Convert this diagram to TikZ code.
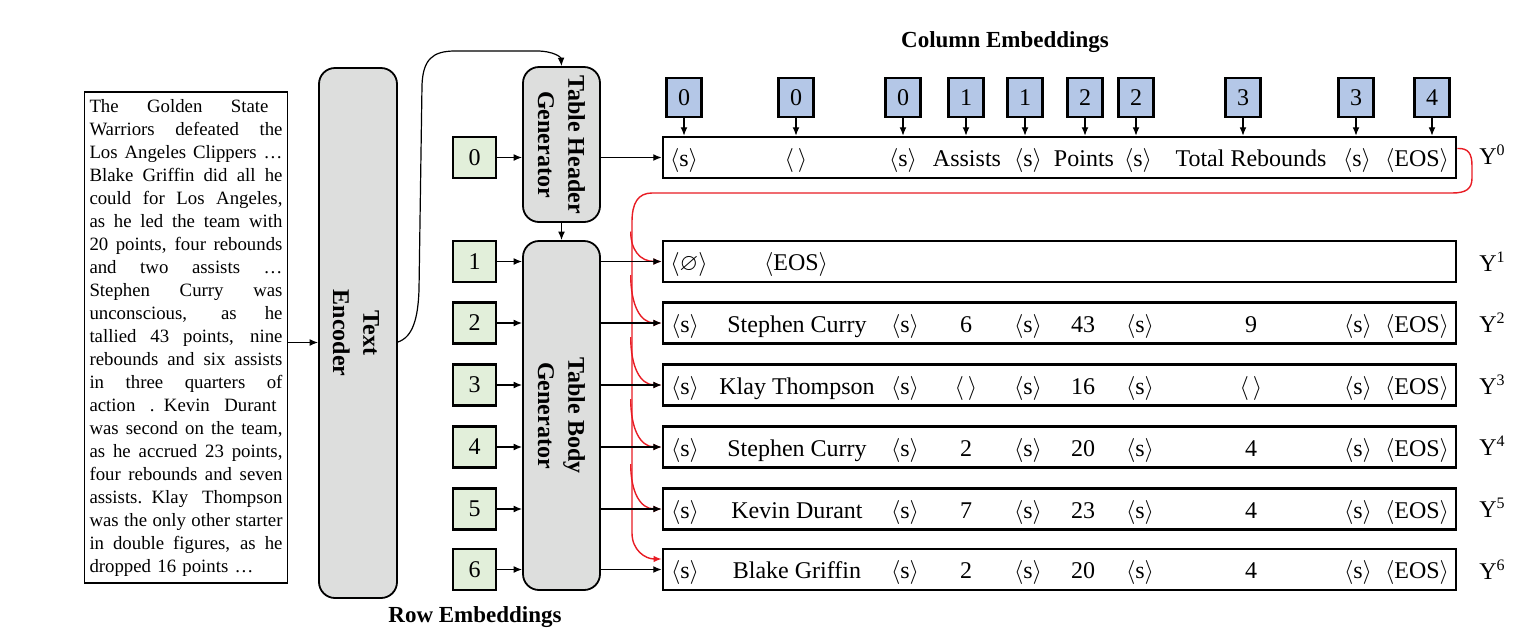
\documentclass[tikz,border=0pt]{standalone}
\usepackage{fontspec}
\usepackage{amssymb}
\setmainfont{Liberation Serif}
\usetikzlibrary{arrows.meta,calc}
\definecolor{embgreen}{RGB}{226,239,218}
\definecolor{embblue}{RGB}{180,199,231}
\definecolor{genfill}{RGB}{221,222,221}
\definecolor{redline}{RGB}{232,28,36}
\newcommand\angtok[1]{$\langle$#1$\rangle$}
\newcommand\emptytok{$\langle\,\rangle$}
\newcommand\jline[1]{\hbox to 96.5pt{\spaceskip=0.25em plus 1fil minus 0.05em\relax #1}}
\begin{document}
\begin{tikzpicture}[x=0.5pt,y=-0.5pt,
 tipstyle/.style={-{Latex[length=4.2pt,width=3.4pt]}},
 conn/.style={draw=black,line width=0.6pt,tipstyle},
 redc/.style={draw=redline,line width=0.7pt,-{Latex[length=4pt,width=3.2pt]}},
 rowbox/.style={draw=black,line width=1.3pt,minimum width=396.5pt,minimum height=20.5pt,inner sep=0pt},
 rowemb/.style={draw=black,line width=1.1pt,fill=embgreen,minimum width=21.5pt,minimum height=20.5pt,inner sep=0pt,font=\fontsize{12}{14}\selectfont},
 colemb/.style={draw=black,line width=1.1pt,fill=embblue,minimum width=17.5pt,minimum height=19.5pt,inner sep=0pt,font=\fontsize{12}{14}\selectfont},
 gen/.style={draw=black,line width=0.9pt,fill=genfill,rounded corners=8pt,inner sep=0pt},
 genlabel/.style={rotate=-90,align=center,inner sep=0pt,font=\bfseries\fontsize{12}{15.2}\selectfont},
 cell/.style={anchor=base,yshift=-4.5pt,inner sep=0pt,font=\fontsize{12}{14}\selectfont},
 ylab/.style={anchor=west,inner sep=0pt,font=\fontsize{12}{14}\selectfont},
 title/.style={inner sep=0pt,font=\bfseries\fontsize{11.5}{13}\selectfont}]
\useasboundingbox (0,0) rectangle (1522,633);

% input text
\node[draw=black,line width=0.6pt,text width=96.5pt,inner sep=2.5pt,minimum height=245.5pt,
      font=\fontsize{9.4}{11.5}\selectfont] (txt) at (186,337.5) {%
\jline{The Golden State\hspace*{7pt}}
\jline{Warriors defeated the}
\jline{Los Angeles Clippers …}
\jline{Blake Griffin did all he}
\jline{could for Los Angeles,}
\jline{as he led the team with}
\jline{20 points, four rebounds}
\jline{and two assists …}
\jline{Stephen Curry was}
\jline{unconscious, as he}
\jline{tallied 43 points, nine}
\jline{rebounds and six assists}
\jline{in three quarters of}
\jline{action . Kevin Durant\hspace*{3pt}}
\jline{was second on the team,}
\jline{as he accrued 23 points,}
\jline{four rebounds and seven}
\jline{assists. Klay Thompson}
\jline{was the only other starter}
\jline{in double figures, as he}
\hbox{dropped 16 points …}};

% encoder and generators
\node[gen,minimum width=39pt,minimum height=265pt] (enc) at (358,333) {};
\node[genlabel] (enclab) at (356,333) {Text\\Encoder};
\node[gen,minimum width=38.5pt,minimum height=77.5pt] (thg) at (561.5,144.5) {};
\node[genlabel] (thglab) at (561.5,144.5) {Table Header\\Generator};
\node[gen,minimum width=38.5pt,minimum height=174.5pt] (tbg) at (561.5,415.5) {};
\node[genlabel] (tbglab) at (561.5,415.5) {Table Body\\Generator};

% titles
\node[title] (coltitle) at (1005,42) {Column Embeddings};
\node[title] (rowtitle) at (475,617) {Row Embeddings};

% row boxes
\node[rowbox] (row0) at (1059.5,157.5) {};
\foreach \i/\yy in {1/261.5,2/323,3/385,4/447,5/509,6/569.5}
  \node[rowbox] (row\i) at (1059.5,\yy) {};

% row embeddings
\node[rowemb] (g0) at (474.5,157.5) {0};
\foreach \i/\yy in {1/261.5,2/323,3/385,4/447,5/509,6/569.5}
  \node[rowemb] (g\i) at (474.5,\yy) {\i};

% column embeddings
\foreach \k/\xx/\v in {1/684/0,2/796/0,3/903/0,4/966/1,5/1025/1,6/1085/2,7/1136/2,8/1243/3,9/1356/3,10/1432/4}{
  \node[colemb] (cb\k) at (\xx,97.5) {\v};
  \draw[conn] (cb\k.south) -- (cb\k.south |- row0.north);
}

% header row
\foreach \k/\xx/\t in {1/684/\angtok{s},2/796/\emptytok,3/903/\angtok{s},4/967/Assists,5/1028/\angtok{s},6/1084/Points,7/1138/\angtok{s},8/1251/Total Rebounds,9/1357/\angtok{s},10/1417/\angtok{EOS}}
  \node[cell] (h\k) at (\xx,157.5) {\t};

% row 1
\node[cell] (r1-1) at (689,261.5) {$\langle\varnothing\rangle$};
\node[cell] (r1-2) at (796,261.5) {\angtok{EOS}};

% rows 2-6
\foreach \i/\yy/\nm/\va/\vb/\vc in {2/323/Stephen Curry/6/43/9,3/385/Klay Thompson/\emptytok/16/\emptytok,4/447/Stephen Curry/2/20/4,5/509/Kevin Durant/7/23/4,6/569.5/Blake Griffin/2/20/4}{
  \foreach \k/\xx in {1/685,3/905,5/1028,7/1140,9/1358}
    \node[cell] (r\i-\k) at (\xx,\yy) {\angtok{s}};
  \node[cell] (r\i-2) at (797,\yy) {\nm};
  \node[cell] (r\i-4) at (966,\yy) {\va};
  \node[cell] (r\i-6) at (1083,\yy) {\vb};
  \node[cell] (r\i-8) at (1251,\yy) {\vc};
  \node[cell] (r\i-10) at (1417,\yy) {\angtok{EOS}};
}

% Y labels
\node[ylab] (y0) at (1479,155) {Y\textsuperscript{0}};
\foreach \i/\yy in {1/262,2/323,3/385,4/446,5/508,6/570}
  \node[ylab] (y\i) at (1479,\yy) {Y\textsuperscript{\i}};

% red feedback
\draw[redc] ([yshift=4.5pt]row0.east) .. controls (1468,148) and (1472,153) .. (1472,166) -- (1472,178)
  .. controls (1472,189) and (1466,193) .. (1452,193) -- (652,193)
  .. controls (638,193) and (632,203) .. (632,222) -- (632,533)
  .. controls (632,550) and (645,559) .. ([yshift=5.25pt]row6.west);
\foreach \i/\ys in {1/30,2/48,3/48,4/48,5/45}
  \draw[redc] ($(row\i.west)+(-31,-\ys)$) .. controls +(0,\ys*0.6) and +(-22,0) .. (row\i.west);

% black connectors
\draw[conn] ([yshift=-2.5pt]txt.east) -- ([yshift=-2.5pt]txt.east -| enc.west);
\draw[conn] ([yshift=-4.5pt]enc.east) .. controls (413,337) and (418,318) .. (419,290) -- (422,85)
  .. controls (423,60) and (432,51) .. (455,51) -- (537,51)
  .. controls (553,51) and (561,57) .. (thg.north);
\draw[conn] (thg.south) -- (tbg.north);
\draw[conn] (g0.east) -- (g0.east -| thg.west);
\draw[conn] (thg.east |- row0.west) -- (row0.west);
\foreach \i in {1,...,6}{
  \draw[conn] (g\i.east) -- (g\i.east -| tbg.west);
  \draw[conn] (tbg.east |- row\i.west) -- (row\i.west);
}
\end{tikzpicture}
\end{document}
